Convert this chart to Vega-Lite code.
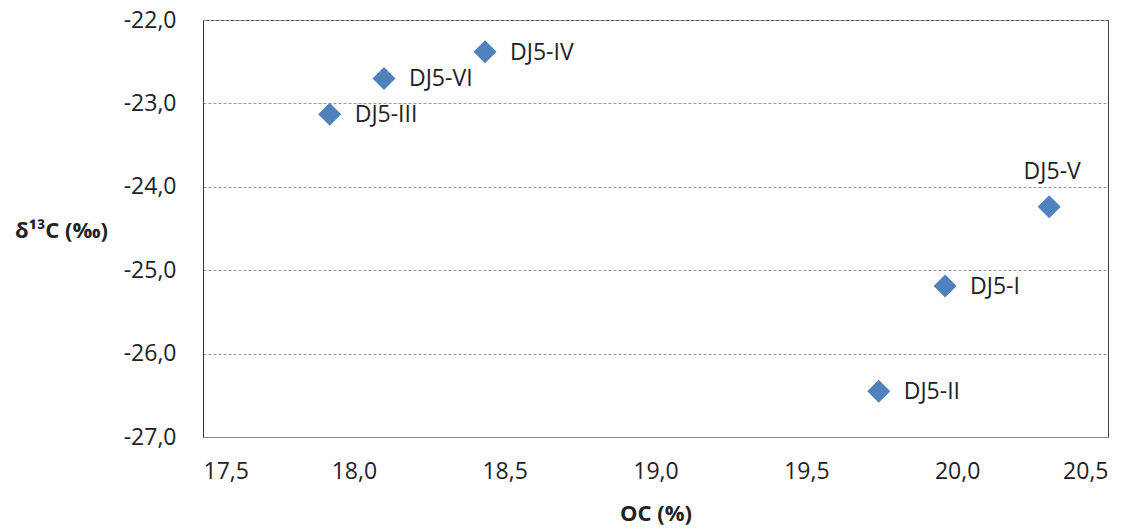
{
  "$schema": "https://vega.github.io/schema/vega-lite/v6.json",
  "width": 905,
  "height": 417,
  "autosize": {"type": "none"},
  "padding": {"left": 203, "top": 20, "right": 32, "bottom": 93},
  "background": "white",
  "config": {
    "font": "Open Sans",
    "view": {"stroke": "#404040", "strokeWidth": 1},
    "axis": {"labelFont": "Open Sans", "titleFont": "Open Sans"}
  },
  "data": {
    "values": [
      {"sample": "DJ5-I", "oc": 19.96, "d13c": -25.19},
      {"sample": "DJ5-II", "oc": 19.74, "d13c": -26.45},
      {"sample": "DJ5-III", "oc": 17.92, "d13c": -23.13},
      {"sample": "DJ5-IV", "oc": 18.435, "d13c": -22.38},
      {"sample": "DJ5-V", "oc": 20.305, "d13c": -24.24},
      {"sample": "DJ5-VI", "oc": 18.1, "d13c": -22.7}
    ]
  },
  "encoding": {
    "x": {
      "field": "oc", "type": "quantitative",
      "scale": {"domain": [17.5, 20.5], "nice": false, "zero": false},
      "axis": {
        "title": "OC (%)",
        "values": [17.5, 18, 18.5, 19, 19.5, 20, 20.5],
        "labelExpr": "replace(replace(format(datum.value, '.1f'), '.', ','), '−', '-')",
        "grid": false, "ticks": false,
        "domainColor": "#888888",
        "labelFontSize": 23, "labelColor": "#222222", "labelPadding": 34, "labelBaseline": "middle",
        "titleFontSize": 22, "titleFontWeight": "bold", "titleColor": "#222222",
        "titleY": 76, "titleBaseline": "middle"
      }
    },
    "y": {
      "field": "d13c", "type": "quantitative",
      "scale": {"domain": [-27, -22], "nice": false, "zero": false},
      "axis": {
        "title": "δ¹³C (‰)",
        "values": [-27, -26, -25, -24, -23, -22],
        "labelExpr": "replace(replace(format(datum.value, '.1f'), '.', ','), '−', '-')",
        "grid": true, "gridDash": [3, 2], "gridColor": "#999999",
        "ticks": false,
        "domainColor": "#333333",
        "labelFontSize": 23, "labelColor": "#222222", "labelPadding": 27,
        "titleAngle": 0, "titleX": -142, "titleY": 210,
        "titleAlign": "center", "titleBaseline": "middle",
        "titleFontSize": 22, "titleFontWeight": "bold", "titleColor": "#222222"
      }
    }
  },
  "layer": [
    {
      "mark": {"type": "point", "shape": "diamond", "filled": true, "size": 529, "color": "#4F81BD", "opacity": 1}
    },
    {
      "transform": [{"filter": "datum.sample !== 'DJ5-V'"}],
      "mark": {"type": "text", "align": "left", "baseline": "middle", "dx": 25, "dy": 1, "fontSize": 23, "color": "#222222"},
      "encoding": {"text": {"field": "sample"}}
    },
    {
      "transform": [{"filter": "datum.sample === 'DJ5-V'"}],
      "mark": {"type": "text", "align": "center", "baseline": "middle", "dx": 3, "dy": -35, "fontSize": 23, "color": "#222222"},
      "encoding": {"text": {"field": "sample"}}
    }
  ]
}
